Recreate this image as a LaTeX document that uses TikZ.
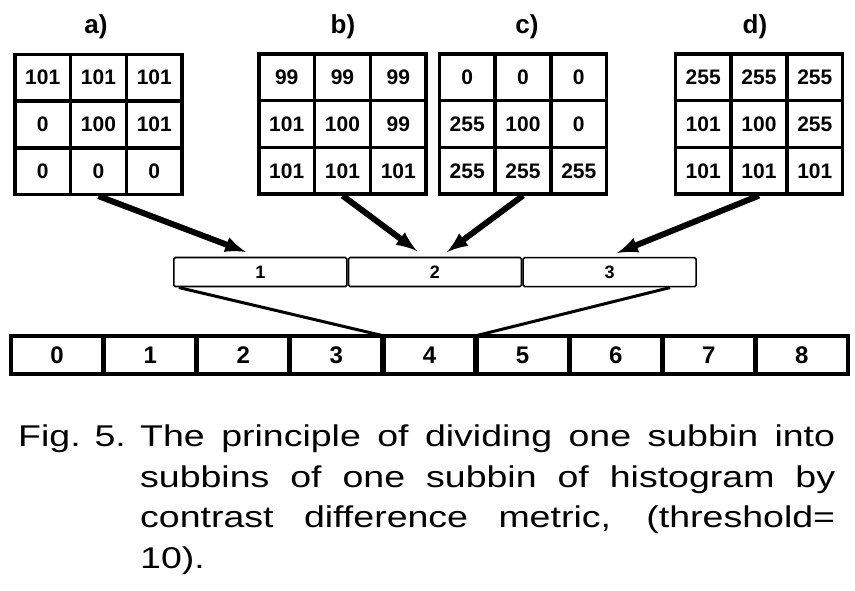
\documentclass[tikz,border=0pt]{standalone}
\usepackage{fontspec}
\setmainfont{Liberation Sans}
\newfontfamily\capfont[FakeStretch=1.25]{Liberation Sans}
\usetikzlibrary{matrix}

\tikzset{
  pixgrid/.style={matrix of nodes, draw, line width=2.8pt, inner sep=0pt,
    column sep=0pt, row sep=0pt,
    nodes={draw, line width=1.8pt, minimum width=54pt, minimum height=45pt,
      inner sep=0pt, font=\bfseries\fontsize{21}{21}\selectfont}},
  subbar/.style={matrix of nodes, inner sep=0pt, column sep=0pt,
    nodes={draw, line width=1.6pt, rounded corners=1.5pt, minimum width=173pt,
      minimum height=29pt, inner sep=0pt, font=\bfseries\fontsize{18}{18}\selectfont}},
  histbar/.style={matrix of nodes, draw, line width=3.2pt, inner sep=0pt,
    column sep=0pt,
    nodes={draw, line width=2.6pt, minimum width=90.5pt, minimum height=36pt,
      inner sep=0pt, font=\bfseries\fontsize{24}{24}\selectfont}},
  gridlabel/.style={font=\bfseries\fontsize{26}{26}\selectfont},
  bigarrow/.style={line width=6pt, -latex},
  link/.style={line width=3pt},
  captext/.style={inner sep=0pt, font=\capfont\fontsize{30}{40.5}\selectfont},
}

\begin{document}
\begin{tikzpicture}[x=1pt, y=-1pt]
\useasboundingbox (0,0) rectangle (855,590);

\node[gridlabel] (la) at (96,27) {a)};
\node[gridlabel] (lb) at (343,27) {b)};
\node[gridlabel] (lc) at (527,27) {c)};
\node[gridlabel] (ld) at (755,27) {d)};

\matrix (ga) [pixgrid] at (98.5,124.5) {
101 & 101 & 101 \\
0 & 100 & 101 \\
0 & 0 & 0 \\
};

\matrix (gb) [pixgrid] at (342.5,124) {
99 & 99 & 99 \\
101 & 100 & 99 \\
101 & 101 & 101 \\
};

\matrix (gc) [pixgrid] at (523,124) {
0 & 0 & 0 \\
255 & 100 & 0 \\
255 & 255 & 255 \\
};

\matrix (gd) [pixgrid] at (759,124) {
255 & 255 & 255 \\
101 & 100 & 255 \\
101 & 101 & 101 \\
};

\matrix (sub) [subbar] at (435,272) {
1 & 2 & 3 \\
};

\matrix (hist) [histbar] at (429.5,355) {
0 & 1 & 2 & 3 & 4 & 5 & 6 & 7 & 8 \\
};

\coordinate (ta) at (246,252);
\coordinate (tb) at (417,251);
\coordinate (tc) at (447,252);
\coordinate (td) at (617,253);

\draw[bigarrow] (ga.south) -- (ta);
\draw[bigarrow] (gb.south) -- (tb);
\draw[bigarrow] (gc.south) -- (tc);
\draw[bigarrow] (gd.south) -- (td);

\draw[link] ([xshift=6pt]sub.south west) -- (hist-1-5.north west);
\draw[link] ([xshift=-27pt]sub.south east) -- (hist-1-5.north east);

\node[captext, anchor=north west] (cap) at (18,425) {\parbox[t]{817pt}{\noindent
\hangindent=122pt\hangafter=1
\makebox[122pt][l]{Fig. 5.}The principle of dividing one subbin into\linebreak
subbins of one subbin of histogram by\linebreak
contrast difference metric, (threshold=\linebreak
10).}};
\end{tikzpicture}
\end{document}
